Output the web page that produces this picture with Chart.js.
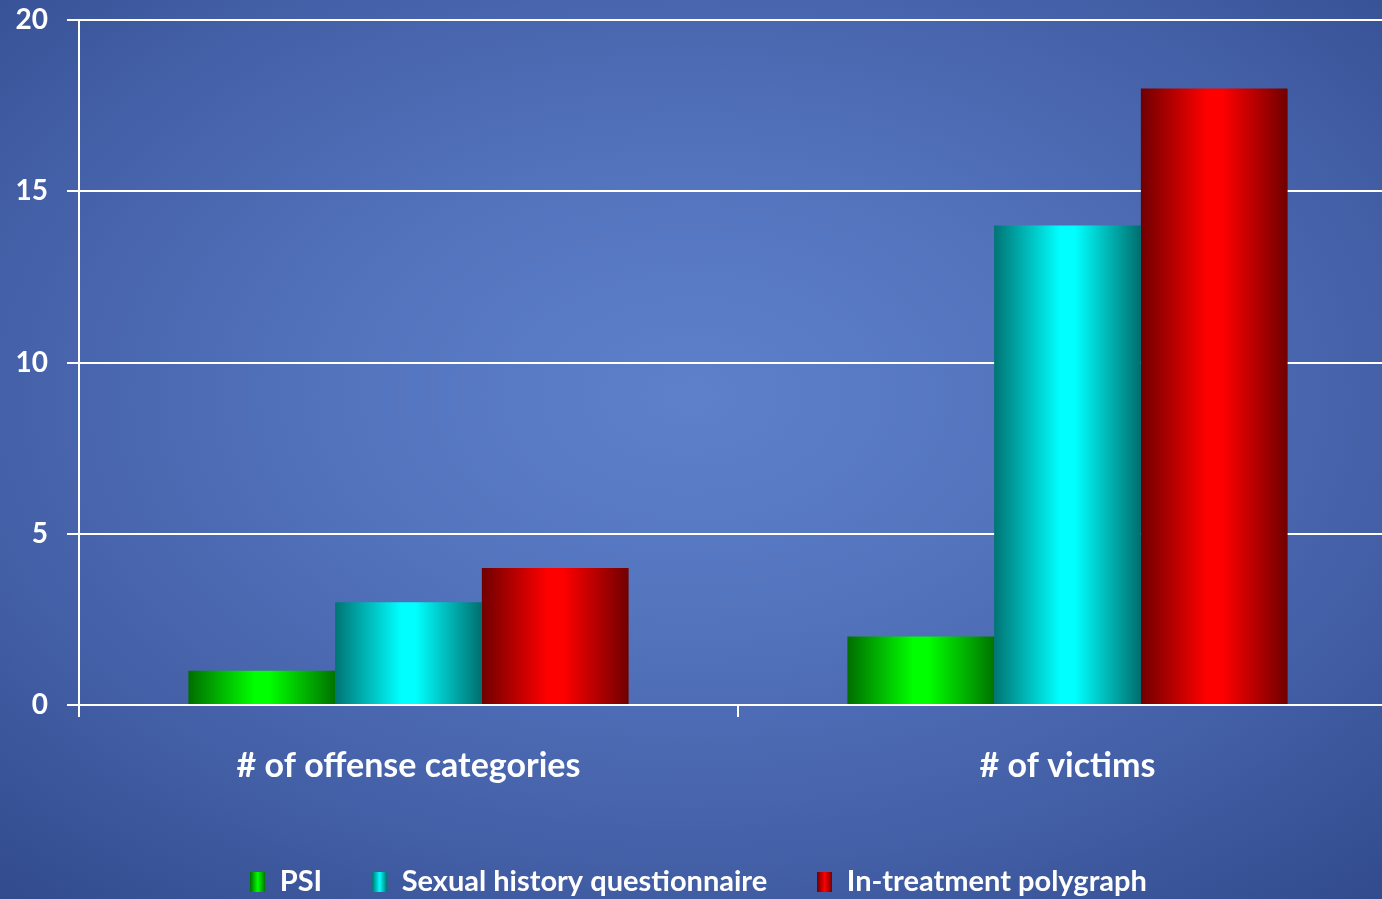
<!DOCTYPE html>
<html>
<head>
<meta charset="utf-8">
<script src="https://cdn.jsdelivr.net/npm/chart.js@4"></script>
<style>
  html, body { margin: 0; padding: 0; overflow: hidden; width: 1382px; height: 899px; }
  body { background: radial-gradient(ellipse 75% 75% at 50% 44%, #5e80ca 0%, #5373bd 35%, #435fa6 70%, #314b8d 100%); }
  #wrap { position: relative; width: 1400px; height: 906px; }
</style>
</head>
<body>
<div id="wrap"><canvas id="myChart"></canvas></div>
<script>
const categories = ["# of offense categories", "# of victims"];
const psi = [1, 2];
const questionnaire = [3, 14];
const polygraph = [4, 18];
const yTicks = [0, 5, 10, 15, 20];

// dark / bright / dark shades for the cylinder look
const shades = {
  green: ["#006e00", "#00ff00", "#007400"],
  cyan: ["#007474", "#00ffff", "#006e6e"],
  red: ["#700000", "#ff0000", "#700000"]
};

const groupPct = 0.668;

function barGradient(c, key) {
  const chart = c.chart;
  const x = chart.scales.x;
  if (!chart.chartArea || !x) return shades[key][1];
  const catW = x.width / categories.length;
  const barW = catW * groupPct / 3;
  const center = x.getPixelForValue(c.dataIndex);
  const left = center - catW * groupPct / 2 + c.datasetIndex * barW;
  const g = chart.ctx.createLinearGradient(left, 0, left + barW, 0);
  const s = shades[key];
  g.addColorStop(0, s[0]);
  g.addColorStop(0.45, s[1]);
  g.addColorStop(0.55, s[1]);
  g.addColorStop(1, s[2]);
  return g;
}

function legendSwatch(key) {
  const cv = document.createElement("canvas");
  cv.width = 15; cv.height = 20;
  const cx = cv.getContext("2d");
  const g = cx.createLinearGradient(0, 0, 15, 0);
  const s = shades[key];
  g.addColorStop(0, s[0]);
  g.addColorStop(0.5, s[1]);
  g.addColorStop(1, s[2]);
  cx.fillStyle = g;
  cx.fillRect(0, 0, 15, 20);
  return cv;
}

const font = "Lato, 'Open Sans', sans-serif";

const data = {
  labels: categories,
  datasets: [
    { label: "PSI", data: psi, backgroundColor: c => barGradient(c, "green"), pointStyle: legendSwatch("green") },
    { label: "Sexual history questionnaire", data: questionnaire, backgroundColor: c => barGradient(c, "cyan"), pointStyle: legendSwatch("cyan") },
    { label: "In-treatment polygraph", data: polygraph, backgroundColor: c => barGradient(c, "red"), pointStyle: legendSwatch("red") }
  ]
};

const config = {
  type: "bar",
  data: data,
  options: {
    responsive: false,
    animation: false,
    layout: { padding: { top: 20, right: 3, left: 0, bottom: 0 } },
    datasets: { bar: { barPercentage: 1, categoryPercentage: groupPct, borderWidth: 0 } },
    plugins: {
      tooltip: { enabled: false },
      legend: {
        position: "bottom",
        labels: {
          usePointStyle: true,
          pointStyleWidth: 15,
          color: "#ffffff",
          padding: 50,
          font: { family: font, size: 29, weight: "bold" }
        }
      }
    },
    scales: {
      y: {
        min: 0,
        max: 20,
        afterBuildTicks: s => { s.ticks = yTicks.map(v => ({ value: v })); },
        afterFit: s => { s.width = 79; s.paddingTop = 0; s.paddingBottom = 0; },
        ticks: { color: "#ffffff", padding: 19, font: { family: font, size: 28, weight: "bold" } },
        grid: { color: "#ffffff", lineWidth: 2, tickLength: 12 },
        border: { color: "#ffffff", width: 2 }
      },
      x: {
        afterFit: s => { s.height = 112; },
        ticks: { color: "#ffffff", padding: 29, font: { family: font, size: 34, weight: "bold" } },
        grid: { color: "#ffffff", lineWidth: 2, tickLength: 12, drawOnChartArea: false, offset: true },
        border: { color: "#ffffff", width: 2 }
      }
    }
  }
};

const cv = document.getElementById("myChart");
cv.width = 1400; cv.height = 906;
const myChart = new Chart(cv, config);
</script>
</body>
</html>
